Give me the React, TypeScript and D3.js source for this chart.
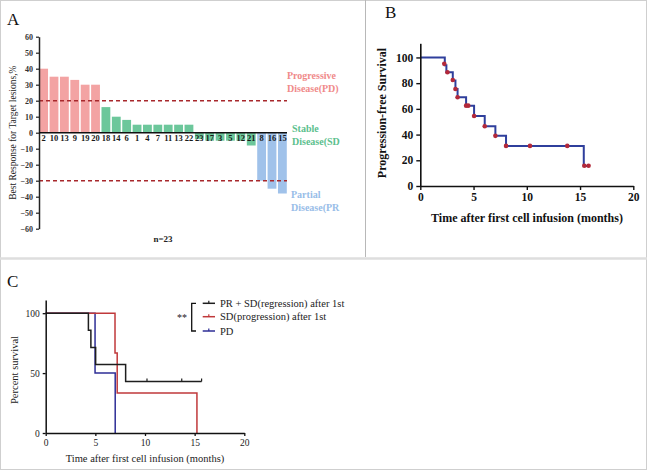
import React, { useEffect, useRef } from 'react';
import * as d3 from 'd3';

// Panel A: waterfall of best response
const patientIds = ['2', '10', '13', '9', '19', '20', '18', '14', '6', '1', '4', '7', '11', '13', '22', '23', '17', '3', '5', '12', '21', '8', '16', '15'];
const bestResponse = [40, 35, 35, 33, 30, 30, 16, 10, 8, 5, 5, 5, 5, 5, 5, -4, -5, -5, -5, -5, -8, -30, -35, -38];
const responseGroup = ['PD', 'PD', 'PD', 'PD', 'PD', 'PD', 'SD', 'SD', 'SD', 'SD', 'SD', 'SD', 'SD', 'SD', 'SD', 'SD', 'SD', 'SD', 'SD', 'SD', 'SD', 'PR', 'PR', 'PR'];
const cutoffs = [20, -30];
const waterfallTicks = [60, 50, 40, 30, 20, 10, 0, -10, -20, -30, -40, -50, -60];

// Panel B: progression-free survival
const pfsTimes = [0, 2.3, 2.45, 3.05, 3.3, 3.5, 4.3, 5.05, 6.05, 7.05, 8.05, 15.35, 15.8];
const pfsSurv = [100, 94, 88.5, 82, 75.5, 69, 62.5, 54.5, 46.5, 39, 31.2, 15.6, 15.6];
const pfsMarkTimes = [2.25, 2.55, 3.05, 3.3, 3.5, 4.3, 4.5, 5.05, 6.05, 7.05, 8.05, 10.3, 13.8, 15.4, 15.8];
const pfsMarkSurv = [95, 88.5, 82.5, 75.5, 69, 62.5, 62.5, 54.5, 46.5, 39, 31.2, 31.2, 31.2, 15.8, 15.8];

// Panel C: overall survival by group
const groupNames = ['PR + SD(regression) after 1st', 'SD(progression) after 1st', 'PD'];
const blackTimes = [0, 4.3, 4.55, 5.03, 8.05, 15.7];
const blackSurv = [100, 85.7, 71.4, 57.1, 42.9, 42.9];
const blackCensor = [10.2, 13.7, 15.7];
const redTimes = [0, 6.98, 7.2, 15.23];
const redSurv = [100, 66.7, 33.3, 0];
const blueTimes = [0, 4.97, 7.0];
const blueSurv = [100, 50, 0];

const SERIF = '"Liberation Serif", "DejaVu Serif", serif';

const App = () => {
    const ref = useRef<SVGSVGElement | null>(null);

    useEffect(() => {
        document.body.style.margin = '0';
        const svg = d3.select(ref.current);
        svg.selectAll('*').remove();

        // frame
        svg.append('rect').attr('x', 0.5).attr('y', 0.5).attr('width', 646).attr('height', 469)
            .attr('fill', '#fff').attr('stroke', '#cfcfcf');
        svg.append('line').attr('x1', 0).attr('x2', 647).attr('y1', 258.5).attr('y2', 258.5)
            .attr('stroke', '#dedede').attr('stroke-width', 2.5);
        svg.append('line').attr('x1', 365.5).attr('x2', 365.5).attr('y1', 0).attr('y2', 257)
            .attr('stroke', '#b8b8b8').attr('stroke-width', 1);

        const label = (x: number, y: number, t: string) =>
            svg.append('text').attr('x', x).attr('y', y).text(t)
                .style('font-family', SERIF).style('font-size', '17px').style('fill', '#111');

        // ---------- Panel A ----------
        label(7, 25, 'A');
        const gA = svg.append('g');
        const xA = d3.scaleBand<number>().domain(d3.range(patientIds.length)).range([39, 287]).paddingInner(0.15).paddingOuter(0.02);
        const yA = d3.scaleLinear().domain([-60, 60]).range([228.7, 36.7]);
        const colA: Record<string, string> = { PD: '#f3a3a3', SD: '#6cc79b', PR: '#a0c2ea' };

        gA.selectAll('rect.bar').data(bestResponse).enter().append('rect')
            .attr('x', (d, i) => xA(i)!)
            .attr('width', xA.bandwidth())
            .attr('y', d => yA(Math.max(0, d)))
            .attr('height', d => Math.abs(yA(d) - yA(0)))
            .attr('fill', (d, i) => colA[responseGroup[i]]);

        gA.selectAll('line.cut').data(cutoffs).enter().append('line')
            .attr('x1', 39).attr('x2', 287)
            .attr('y1', d => yA(d)).attr('y2', d => yA(d))
            .attr('stroke', '#a8282c').attr('stroke-width', 1.6).attr('stroke-dasharray', '4,3');

        const axA = gA.append('g').attr('transform', 'translate(39,0)')
            .call(d3.axisLeft(yA).tickValues(waterfallTicks).tickSize(3).tickSizeOuter(0));
        axA.select('.domain').attr('stroke', '#222').attr('stroke-width', 1.5);
        axA.selectAll('line').attr('stroke', '#222').attr('stroke-width', 1.2);
        axA.selectAll('text').style('font-family', SERIF).style('font-size', '8px').style('font-weight', 'bold').style('fill', '#333');

        gA.append('line').attr('x1', 39).attr('x2', 287).attr('y1', yA(0)).attr('y2', yA(0))
            .attr('stroke', '#111').attr('stroke-width', 1.5);

        gA.selectAll('text.pid').data(patientIds).enter().append('text')
            .attr('x', (d, i) => xA(i)! + xA.bandwidth() / 2)
            .attr('y', yA(0) + 8.5)
            .attr('text-anchor', 'middle')
            .text(d => d)
            .style('font-family', SERIF).style('font-size', '8.5px').style('font-weight', 'bold').style('fill', '#1a1a1a');

        gA.append('text').attr('transform', `translate(16,${yA(0)}) rotate(-90)`)
            .attr('text-anchor', 'middle').text('Best Response for Target lesions,%')
            .style('font-family', SERIF).style('font-size', '9.5px').style('fill', '#222');
        gA.append('text').attr('x', 163).attr('y', 242).attr('text-anchor', 'middle').text('n=23')
            .style('font-family', SERIF).style('font-size', '9px').style('font-weight', 'bold').style('fill', '#222');

        const sideText = (x: number, y: number, lines: string[], c: string) =>
            lines.forEach((t, i) => gA.append('text').attr('x', x).attr('y', y + i * 13).text(t)
                .style('font-family', SERIF).style('font-size', '10px').style('font-weight', 'bold').style('fill', c));
        sideText(287, 79, ['Progressive', 'Disease(PD)'], '#f08a8a');
        sideText(292, 132, ['Stable', 'Disease(SD'], '#5cbf8e');
        sideText(291, 198, ['Partial', 'Disease(PR'], '#98bde8');

        // ---------- Panel B ----------
        label(385, 18, 'B');
        const gB = svg.append('g');
        const xB = d3.scaleLinear().domain([0, 20]).range([420.3, 633.3]);
        const yB = d3.scaleLinear().domain([0, 111]).range([186, 43.3]);

        const stepB = d3.line<number>().x(i => xB(pfsTimes[i])).y(i => yB(pfsSurv[i])).curve(d3.curveStepAfter);
        gB.append('path').attr('d', stepB(d3.range(pfsTimes.length)))
            .attr('fill', 'none').attr('stroke', '#2f3f9c').attr('stroke-width', 2);
        gB.selectAll('circle').data(pfsMarkTimes).enter().append('circle')
            .attr('cx', d => xB(d)).attr('cy', (d, i) => yB(pfsMarkSurv[i])).attr('r', 2.3)
            .attr('fill', '#b3293a');

        const axBx = gB.append('g').attr('transform', 'translate(0,186)')
            .call(d3.axisBottom(xB).tickValues([0, 5, 10, 15, 20]).tickSize(4).tickSizeOuter(0));
        const axBy = gB.append('g').attr('transform', 'translate(420.3,0)')
            .call(d3.axisLeft(yB).tickValues([0, 20, 40, 60, 80, 100]).tickSize(4).tickSizeOuter(0));
        [axBx, axBy].forEach(a => {
            a.select('.domain').attr('stroke', '#111').attr('stroke-width', 1.6);
            a.selectAll('line').attr('stroke', '#111').attr('stroke-width', 1.4);
            a.selectAll('text').style('font-family', SERIF).style('font-size', '11.5px').style('font-weight', 'bold').style('fill', '#111');
        });
        gB.append('text').attr('x', 527).attr('y', 222).attr('text-anchor', 'middle')
            .text('Time after first cell infusion (months)')
            .style('font-family', SERIF).style('font-size', '12px').style('font-weight', 'bold').style('fill', '#111');
        gB.append('text').attr('transform', `translate(386,113) rotate(-90)`).attr('text-anchor', 'middle')
            .text('Progression-free Survival')
            .style('font-family', SERIF).style('font-size', '12px').style('font-weight', 'bold').style('fill', '#111');

        // ---------- Panel C ----------
        label(7, 287, 'C');
        const gC = svg.append('g');
        const xC = d3.scaleLinear().domain([0, 20]).range([45.7, 244.3]);
        const yC = d3.scaleLinear().domain([0, 111]).range([433, 300]);
        const curves = [
            { t: blueTimes, s: blueSurv, c: '#2e2e96', cens: [] as number[] },
            { t: redTimes, s: redSurv, c: '#c0393b', cens: [] as number[] },
            { t: blackTimes, s: blackSurv, c: '#1e1e1e', cens: blackCensor },
        ];
        curves.forEach(cv => {
            const ln = d3.line<number>().x(i => xC(cv.t[i])).y(i => yC(cv.s[i])).curve(d3.curveStepAfter);
            gC.append('path').attr('d', ln(d3.range(cv.t.length)))
                .attr('fill', 'none').attr('stroke', cv.c).attr('stroke-width', 1.5);
            const last = cv.s[cv.s.length - 1];
            gC.selectAll(null).data(cv.cens).enter().append('line')
                .attr('x1', d => xC(d)).attr('x2', d => xC(d))
                .attr('y1', yC(last) - 3).attr('y2', yC(last))
                .attr('stroke', cv.c).attr('stroke-width', 1.2);
        });

        const axCx = gC.append('g').attr('transform', 'translate(0,433)')
            .call(d3.axisBottom(xC).tickValues([0, 5, 10, 15, 20]).tickSize(3).tickSizeOuter(0));
        const axCy = gC.append('g').attr('transform', 'translate(45.7,0)')
            .call(d3.axisLeft(yC).tickValues([0, 50, 100]).tickSize(3).tickSizeOuter(0));
        [axCx, axCy].forEach(a => {
            a.select('.domain').attr('stroke', '#111').attr('stroke-width', 1.5);
            a.selectAll('line').attr('stroke', '#111').attr('stroke-width', 1.3);
            a.selectAll('text').style('font-family', SERIF).style('font-size', '9.5px').style('fill', '#222');
        });
        gC.append('text').attr('x', 145).attr('y', 462).attr('text-anchor', 'middle')
            .text('Time after first cell infusion (months)')
            .style('font-family', SERIF).style('font-size', '10.5px').style('fill', '#222');
        gC.append('text').attr('transform', `translate(18,370) rotate(-90)`).attr('text-anchor', 'middle')
            .text('Percent survival')
            .style('font-family', SERIF).style('font-size', '10.5px').style('fill', '#222');

        // legend
        const legendY = [303.3, 316.7, 331];
        const legendCol = ['#1e1e1e', '#c0393b', '#2e2e96'];
        gC.append('path').attr('d', `M196,${legendY[0]}H191.7V${legendY[2]}H196`)
            .attr('fill', 'none').attr('stroke', '#111').attr('stroke-width', 1.3);
        gC.append('text').attr('x', 182).attr('y', 320.5).attr('text-anchor', 'middle').text('**')
            .style('font-family', SERIF).style('font-size', '10px').style('fill', '#222');
        groupNames.forEach((n, i) => {
            gC.append('line').attr('x1', 202.7).attr('x2', 215).attr('y1', legendY[i]).attr('y2', legendY[i])
                .attr('stroke', legendCol[i]).attr('stroke-width', 1.5);
            gC.append('line').attr('x1', 208.8).attr('x2', 208.8).attr('y1', legendY[i] - 2.5).attr('y2', legendY[i])
                .attr('stroke', legendCol[i]).attr('stroke-width', 1.2);
            gC.append('text').attr('x', 220).attr('y', legendY[i] + 3.5).text(n)
                .style('font-family', SERIF).style('font-size', '10.5px').style('fill', '#222');
        });
    }, []);

    return <svg ref={ref} width={647} height={470} style={{ display: 'block' }} />;
};

export default App;
